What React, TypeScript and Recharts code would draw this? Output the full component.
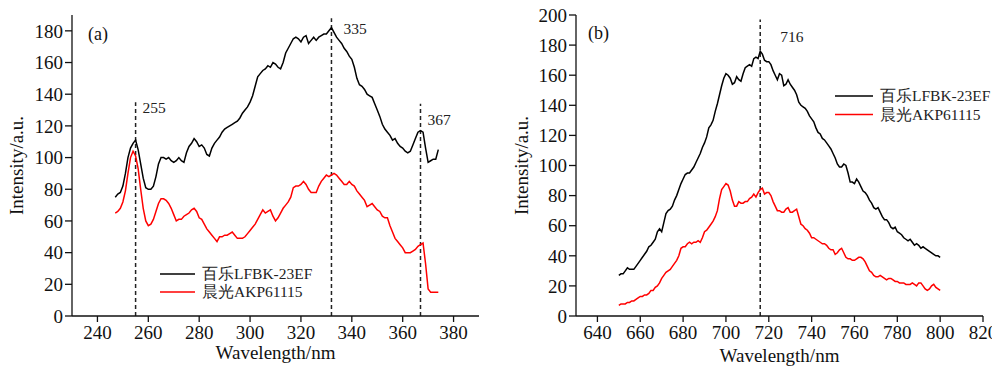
import React from 'react';
import { LineChart, Line, XAxis, YAxis, ReferenceLine, ReferenceDot, Legend } from 'recharts';

const FONT = 'Liberation Serif, Times New Roman, Tinos, DejaVu Serif, serif';

// Panel (a): excitation spectra, 1 nm sampling from 247 nm
const startA = 247;
const baileA = [
  75, 77, 78, 82, 90, 100, 106, 109, 111, 105, 96, 87, 81, 80, 80, 82, 88, 96, 100, 100,
  99, 100, 98, 97, 98, 100, 98, 97, 103, 107, 109, 112, 110, 107, 108, 106, 102, 101, 106, 109,
  111, 113, 116, 118, 119, 120, 121, 122, 123, 125, 128, 130, 132, 135, 139, 145, 151, 153, 155, 156,
  158, 157, 160, 159, 157, 156, 160, 166, 169, 172, 175, 176, 175, 173, 176, 177, 172, 174, 176, 174,
  176, 177, 178, 178, 180, 182, 179, 176, 174, 172, 169, 167, 164, 162, 157, 150, 146, 145, 143, 140,
  139, 138, 134, 130, 126, 121, 118, 116, 114, 111, 112, 109, 107, 106, 104, 103, 104, 108, 112, 116,
  117, 116, 106, 97, 98, 99, 99, 105,
];
const chenguangA = [
  65, 66, 68, 72, 79, 90, 100, 104, 101, 93, 80, 68, 60, 57, 58, 61, 66, 71, 74, 74,
  73, 71, 68, 64, 60, 61, 61, 63, 64, 65, 67, 68, 66, 62, 61, 58, 55, 53, 51, 49,
  47, 50, 50, 51, 51, 52, 53, 51, 49, 49, 49, 50, 52, 54, 56, 58, 61, 64, 67, 65,
  66, 67, 63, 60, 62, 65, 68, 70, 72, 75, 81, 82, 82, 83, 85, 83, 80, 78, 78, 78,
  82, 85, 87, 89, 88, 89, 90, 89, 87, 85, 83, 83, 85, 83, 82, 79, 77, 75, 73, 69,
  70, 71, 69, 67, 66, 63, 62, 62, 57, 53, 49, 47, 45, 43, 40, 40, 40, 41, 42, 44,
  45, 46, 33, 17, 15, 15, 15, 15,
];

// Panel (b): emission spectra, 1 nm sampling from 650 nm
const startB = 650;
const baileB = [
  27, 28, 28, 30, 32, 31, 31, 31, 33, 35, 37, 39, 41, 43, 46, 47, 49, 51, 56, 58,
  56, 62, 68, 70, 71, 73, 77, 80, 84, 88, 91, 94, 95, 95, 97, 99, 102, 105, 108, 112,
  115, 119, 125, 127, 130, 136, 141, 147, 153, 158, 161, 160, 158, 154, 155, 159, 157, 156, 161, 165,
  166, 167, 166, 171, 172, 171, 176, 174, 170, 169, 169, 167, 163, 160, 157, 161, 160, 153, 154, 157,
  154, 152, 150, 147, 142, 140, 139, 138, 136, 133, 131, 129, 125, 122, 121, 118, 117, 115, 113, 111,
  108, 105, 101, 99, 99, 101, 100, 95, 89, 89, 88, 91, 89, 86, 83, 82, 80, 77, 75, 72,
  71, 72, 69, 66, 64, 64, 62, 59, 58, 59, 56, 55, 54, 52, 51, 50, 51, 49, 47, 48,
  47, 45, 46, 45, 44, 43, 42, 41, 40, 40, 39,
];
const chenguangB = [
  7, 8, 8, 8, 9, 9, 10, 10, 11, 12, 13, 13, 14, 14, 15, 17, 17, 19, 20, 22,
  25, 27, 29, 30, 31, 33, 35, 37, 40, 45, 46, 46, 48, 49, 48, 49, 49, 50, 49, 52,
  56, 57, 59, 61, 63, 66, 70, 78, 84, 86, 88, 87, 83, 77, 73, 73, 76, 75, 75, 76,
  76, 78, 79, 81, 79, 82, 84, 85, 81, 82, 82, 80, 76, 73, 70, 70, 69, 69, 71, 72,
  69, 69, 70, 71, 66, 61, 60, 58, 57, 55, 52, 52, 51, 50, 49, 48, 48, 47, 45, 44,
  44, 41, 42, 44, 45, 42, 39, 38, 38, 37, 37, 38, 39, 39, 38, 36, 33, 30, 29, 27,
  26, 26, 27, 26, 25, 24, 25, 25, 24, 23, 23, 22, 22, 22, 21, 21, 21, 22, 21, 20,
  22, 22, 20, 18, 17, 18, 20, 21, 19, 18, 17,
];

const xTicksA = [240, 260, 280, 300, 320, 340, 360, 380];
const yTicksA = [0, 20, 40, 60, 80, 100, 120, 140, 160, 180];
const xTicksB = [640, 660, 680, 700, 720, 740, 760, 780, 800, 820];
const yTicksB = [0, 20, 40, 60, 80, 100, 120, 140, 160, 180, 200];

const seriesNames = ['百乐LFBK-23EF', '晨光AKP61115'];
const seriesColors = ['#000000', '#ff0000'];

// peak markers: wavelength of dashed line, its top, label text
const peaksA = [
  { x: 255, top: 135, label: '255', labelY: 131.5, offset: 7 },
  { x: 332, top: 188, label: '335', labelY: 181.5, offset: 12 },
  { x: 367, top: 134, label: '367', labelY: 124, offset: 7 },
];
const peaksB = [{ x: 716, top: 197, label: '716', labelY: 185.5, offset: 20 }];

const dataA = baileA.map((v, i) => ({ wl: startA + i, baile: v, chenguang: chenguangA[i] }));
const dataB = baileB.map((v, i) => ({ wl: startB + i, baile: v, chenguang: chenguangB[i] }));

const tickStyle = { fontSize: 19, fill: '#111', fontFamily: FONT };
const axisLine = { stroke: '#111', strokeWidth: 1.3 };

const LegendBox = ({ gap, lineLen }: { gap: number; lineLen: number }) => (
  <svg width={180} height={44} style={{ display: 'block' }}>
    {seriesNames.map((n, i) => (
      <g key={n}>
        <line x1={2} x2={2 + lineLen} y1={10 + i * gap} y2={10 + i * gap} stroke={seriesColors[i]} strokeWidth={1.5} />
        <text x={lineLen + 9} y={10 + i * gap} dy="0.35em" fontSize={15.5} fontFamily={FONT} fill="#222">
          {n}
        </text>
      </g>
    ))}
  </svg>
);

const Panel = ({
  data, xDomain, xTicks, yDomain, yTicks, yAxisWidth, rightMargin, peaks, panelLabel, panelX, panelY,
  yLabelOffset, xLabelOffset, legendLeft, legendTop, legendGap, legendLine,
}: any) => (
  <LineChart width={500} height={370} data={data} margin={{ top: 15, right: rightMargin, bottom: 0, left: 0 }} style={{ fontFamily: FONT }}>
    <XAxis
      dataKey="wl"
      type="number"
      domain={xDomain}
      ticks={xTicks}
      interval={0}
      allowDataOverflow
      height={54}
      tick={tickStyle}
      tickSize={6}
      tickMargin={4}
      axisLine={axisLine}
      tickLine={axisLine}
      label={{ value: 'Wavelength/nm', position: 'insideBottom', offset: xLabelOffset, fontSize: 19, fill: '#111', fontFamily: FONT }}
    />
    <YAxis
      type="number"
      domain={yDomain}
      ticks={yTicks}
      interval={0}
      allowDataOverflow
      width={yAxisWidth}
      tick={tickStyle}
      tickSize={7}
      tickMargin={2}
      axisLine={axisLine}
      tickLine={axisLine}
      label={{
        value: 'Intensity/a.u.', angle: -90, position: 'insideLeft', offset: yLabelOffset,
        style: { textAnchor: 'middle' }, fontSize: 19, fill: '#111', fontFamily: FONT,
      }}
    />
    {peaks.map((p: any) => (
      <ReferenceLine
        key={'l' + p.label}
        segment={[{ x: p.x, y: 0 }, { x: p.x, y: p.top }]}
        stroke="#222"
        strokeWidth={1.5}
        strokeDasharray="4 3"
      />
    ))}
    {peaks.map((p: any) => (
      <ReferenceDot
        key={'d' + p.label}
        x={p.x}
        y={p.labelY}
        r={0}
        fill="none"
        stroke="none"
        label={{ value: p.label, position: 'right', offset: p.offset, fontSize: 15.5, fill: '#222', fontFamily: FONT }}
      />
    ))}
    <ReferenceDot
      x={panelX}
      y={panelY}
      r={0}
      fill="none"
      stroke="none"
      label={{ value: panelLabel, position: 'right', offset: 0, fontSize: 18, fill: '#111', fontFamily: FONT }}
    />
    <Line type="linear" dataKey="baile" name={seriesNames[0]} stroke={seriesColors[0]} strokeWidth={1.5} dot={false} isAnimationActive={false} />
    <Line type="linear" dataKey="chenguang" name={seriesNames[1]} stroke={seriesColors[1]} strokeWidth={1.5} dot={false} isAnimationActive={false} />
    <Legend
      layout="vertical"
      align="center"
      verticalAlign="middle"
      wrapperStyle={{ left: legendLeft, top: legendTop, width: 180, height: 44, bottom: 'auto', right: 'auto' }}
      content={() => <LegendBox gap={legendGap} lineLen={legendLine} />}
    />
  </LineChart>
);

export default function App() {
  return (
    <div style={{ display: 'flex', width: 1000, height: 370, margin: '-8px 0 0 -8px', background: '#fff', fontFamily: FONT }}>
      <Panel
        data={dataA}
        xDomain={[230, 390]}
        xTicks={xTicksA}
        yDomain={[0, 190]}
        yTicks={yTicksA}
        yAxisWidth={72}
        rightMargin={21}
        peaks={peaksA}
        panelLabel="(a)"
        panelX={236.3}
        panelY={178.5}
        yLabelOffset={16.5}
        xLabelOffset={11}
        legendLeft={158}
        legendTop={264}
        legendGap={18}
        legendLine={35}
      />
      <Panel
        data={dataB}
        xDomain={[630, 820]}
        xTicks={xTicksB}
        yDomain={[0, 200]}
        yTicks={yTicksB}
        yAxisWidth={76}
        rightMargin={17}
        peaks={peaksB}
        panelLabel="(b)"
        panelX={635.6}
        panelY={188}
        yLabelOffset={21}
        xLabelOffset={8}
        legendLeft={333}
        legendTop={85.5}
        legendGap={18.5}
        legendLine={38}
      />
    </div>
  );
}
